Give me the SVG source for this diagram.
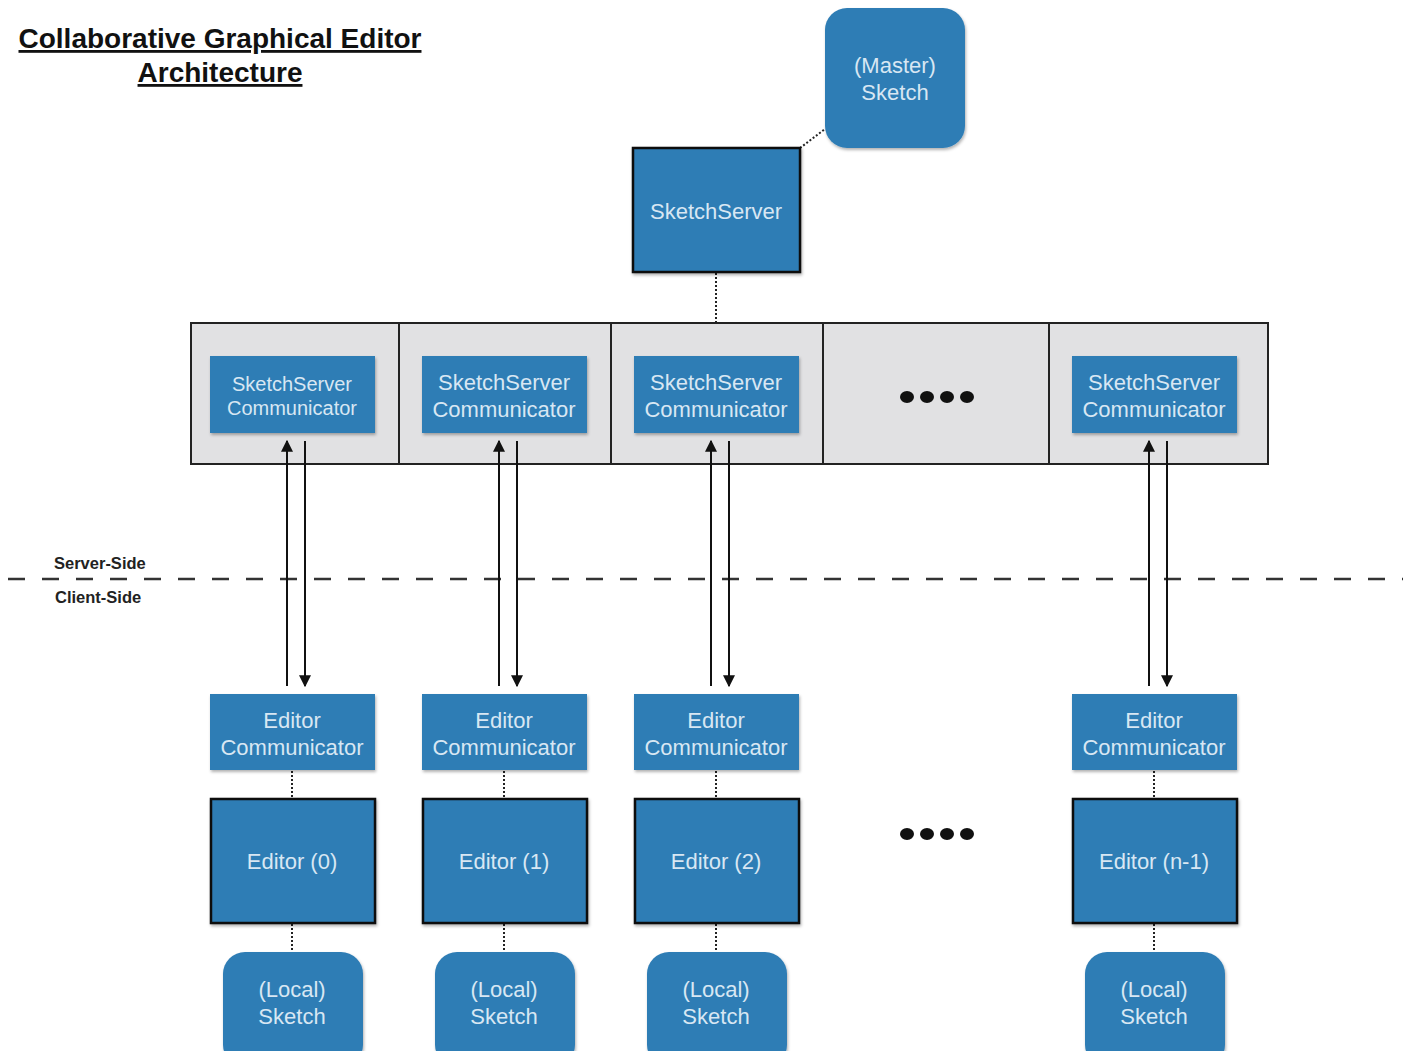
<svg xmlns="http://www.w3.org/2000/svg" width="1403" height="1051" viewBox="0 0 1403 1051">
  <style>
    .blue { fill: #2f7db5; }
    .frame { stroke: #111; stroke-width: 2.5; }
    .lbl { font-family: "Liberation Sans", Arial, sans-serif; font-size: 22px; fill: #d8e7f3; text-anchor: middle; }
    .lbl-s { font-size: 20px; }
    .title { font-family: "Liberation Sans", Arial, sans-serif; font-weight: bold; font-size: 28px; fill: #111; text-anchor: middle; text-decoration: underline; }
    .side { font-family: "Liberation Sans", Arial, sans-serif; font-weight: bold; font-size: 16.5px; fill: #222; }
    .dot { stroke: #222; stroke-width: 2; stroke-dasharray: 2 2; fill: none; }
    .arrow { stroke: #111; stroke-width: 2; fill: none; }
    .cell { fill: #e1e1e3; stroke: #222; stroke-width: 2; }
  </style>
  <defs>
    <marker id="ah" viewBox="0 0 10 10" refX="9" refY="5" markerWidth="6" markerHeight="6" orient="auto" markerUnits="strokeWidth">
      <path d="M0,0 L10,5 L0,10 z" fill="#111"/>
    </marker>
    <filter id="sh" x="-10%" y="-10%" width="130%" height="130%">
      <feDropShadow dx="1" dy="2" stdDeviation="1.5" flood-color="#000" flood-opacity="0.3"/>
    </filter>
  </defs>

  <rect width="1403" height="1051" fill="#fff"/>

  <!-- Title -->
  <g id="title">
    <text class="title" x="220" y="48">Collaborative Graphical Editor</text>
    <text class="title" x="220" y="82">Architecture</text>
  </g>

  <!-- Server / client boundary -->
  <g id="boundary">
    <line x1="8" y1="579" x2="1420" y2="579" stroke="#333" stroke-width="2.5" stroke-dasharray="17 17"/>
    <text class="side" x="54" y="569">Server-Side</text>
    <text class="side" x="55" y="603">Client-Side</text>
  </g>

  <!-- Server pool of communicators -->
  <g id="pool">
    <rect class="cell" x="191" y="323" width="208" height="141"/>
    <rect class="cell" x="399" y="323" width="212" height="141"/>
    <rect class="cell" x="611" y="323" width="212" height="141"/>
    <rect class="cell" x="823" y="323" width="226" height="141"/>
    <rect class="cell" x="1049" y="323" width="219" height="141"/>
    <g fill="#111">
      <ellipse cx="907" cy="397" rx="7" ry="6"/>
      <ellipse cx="927" cy="397" rx="7" ry="6"/>
      <ellipse cx="947" cy="397" rx="7" ry="6"/>
      <ellipse cx="967" cy="397" rx="7" ry="6"/>
    </g>
  </g>

  <!-- Connectors -->
  <g id="connectors">
    <line class="dot" x1="800" y1="148" x2="825" y2="129"/>
    <line class="dot" x1="716" y1="273" x2="716" y2="322"/>

    <line class="arrow" x1="287" y1="686" x2="287" y2="441" marker-end="url(#ah)"/>
    <line class="arrow" x1="305" y1="441" x2="305" y2="686" marker-end="url(#ah)"/>
    <line class="arrow" x1="499" y1="686" x2="499" y2="441" marker-end="url(#ah)"/>
    <line class="arrow" x1="517" y1="441" x2="517" y2="686" marker-end="url(#ah)"/>
    <line class="arrow" x1="711" y1="686" x2="711" y2="441" marker-end="url(#ah)"/>
    <line class="arrow" x1="729" y1="441" x2="729" y2="686" marker-end="url(#ah)"/>
    <line class="arrow" x1="1149" y1="686" x2="1149" y2="441" marker-end="url(#ah)"/>
    <line class="arrow" x1="1167" y1="441" x2="1167" y2="686" marker-end="url(#ah)"/>

    <line class="dot" x1="292" y1="771" x2="292" y2="799"/>
    <line class="dot" x1="292" y1="924" x2="292" y2="952"/>
    <line class="dot" x1="504" y1="771" x2="504" y2="799"/>
    <line class="dot" x1="504" y1="924" x2="504" y2="952"/>
    <line class="dot" x1="716" y1="771" x2="716" y2="799"/>
    <line class="dot" x1="716" y1="924" x2="716" y2="952"/>
    <line class="dot" x1="1154" y1="771" x2="1154" y2="799"/>
    <line class="dot" x1="1154" y1="924" x2="1154" y2="952"/>
  </g>

  <!-- Server side nodes -->
  <g id="master-sketch">
    <rect class="blue" x="825" y="8" width="140" height="140" rx="22" filter="url(#sh)"/>
    <text class="lbl" x="895" y="73">(Master)</text>
    <text class="lbl" x="895" y="100">Sketch</text>
  </g>
  <g id="sketch-server">
    <rect class="blue frame" x="633" y="148" width="167" height="124" filter="url(#sh)"/>
    <text class="lbl" x="716" y="219">SketchServer</text>
  </g>
  <g id="ssc-0">
    <rect class="blue" x="210" y="356" width="165" height="77" filter="url(#sh)"/>
    <text class="lbl lbl-s" x="292" y="391">SketchServer</text>
    <text class="lbl lbl-s" x="292" y="415">Communicator</text>
  </g>
  <g id="ssc-1">
    <rect class="blue" x="422" y="356" width="165" height="77" filter="url(#sh)"/>
    <text class="lbl" x="504" y="390">SketchServer</text>
    <text class="lbl" x="504" y="417">Communicator</text>
  </g>
  <g id="ssc-2">
    <rect class="blue" x="634" y="356" width="165" height="77" filter="url(#sh)"/>
    <text class="lbl" x="716" y="390">SketchServer</text>
    <text class="lbl" x="716" y="417">Communicator</text>
  </g>
  <g id="ssc-n">
    <rect class="blue" x="1072" y="356" width="165" height="77" filter="url(#sh)"/>
    <text class="lbl" x="1154" y="390">SketchServer</text>
    <text class="lbl" x="1154" y="417">Communicator</text>
  </g>

  <!-- Client side: column 0 -->
  <g id="ec-0">
    <rect class="blue" x="210" y="694" width="165" height="76" filter="url(#sh)"/>
    <text class="lbl" x="292" y="728">Editor</text>
    <text class="lbl" x="292" y="755">Communicator</text>
  </g>
  <g id="editor-0">
    <rect class="blue frame" x="211" y="799" width="164" height="124" filter="url(#sh)"/>
    <text class="lbl" x="292" y="869">Editor (0)</text>
  </g>
  <g id="local-0">
    <rect class="blue" x="223" y="952" width="140" height="115" rx="22" filter="url(#sh)"/>
    <text class="lbl" x="292" y="997">(Local)</text>
    <text class="lbl" x="292" y="1024">Sketch</text>
  </g>

  <!-- Client side: column 1 -->
  <g id="ec-1">
    <rect class="blue" x="422" y="694" width="165" height="76" filter="url(#sh)"/>
    <text class="lbl" x="504" y="728">Editor</text>
    <text class="lbl" x="504" y="755">Communicator</text>
  </g>
  <g id="editor-1">
    <rect class="blue frame" x="423" y="799" width="164" height="124" filter="url(#sh)"/>
    <text class="lbl" x="504" y="869">Editor (1)</text>
  </g>
  <g id="local-1">
    <rect class="blue" x="435" y="952" width="140" height="115" rx="22" filter="url(#sh)"/>
    <text class="lbl" x="504" y="997">(Local)</text>
    <text class="lbl" x="504" y="1024">Sketch</text>
  </g>

  <!-- Client side: column 2 -->
  <g id="ec-2">
    <rect class="blue" x="634" y="694" width="165" height="76" filter="url(#sh)"/>
    <text class="lbl" x="716" y="728">Editor</text>
    <text class="lbl" x="716" y="755">Communicator</text>
  </g>
  <g id="editor-2">
    <rect class="blue frame" x="635" y="799" width="164" height="124" filter="url(#sh)"/>
    <text class="lbl" x="716" y="869">Editor (2)</text>
  </g>
  <g id="local-2">
    <rect class="blue" x="647" y="952" width="140" height="115" rx="22" filter="url(#sh)"/>
    <text class="lbl" x="716" y="997">(Local)</text>
    <text class="lbl" x="716" y="1024">Sketch</text>
  </g>

  <!-- Client side: ellipsis -->
  <g id="client-ellipsis" fill="#111">
    <ellipse cx="907" cy="834" rx="7" ry="6"/>
    <ellipse cx="927" cy="834" rx="7" ry="6"/>
    <ellipse cx="947" cy="834" rx="7" ry="6"/>
    <ellipse cx="967" cy="834" rx="7" ry="6"/>
  </g>

  <!-- Client side: column n-1 -->
  <g id="ec-n">
    <rect class="blue" x="1072" y="694" width="165" height="76" filter="url(#sh)"/>
    <text class="lbl" x="1154" y="728">Editor</text>
    <text class="lbl" x="1154" y="755">Communicator</text>
  </g>
  <g id="editor-n">
    <rect class="blue frame" x="1073" y="799" width="164" height="124" filter="url(#sh)"/>
    <text class="lbl" x="1154" y="869">Editor (n-1)</text>
  </g>
  <g id="local-n">
    <rect class="blue" x="1085" y="952" width="140" height="115" rx="22" filter="url(#sh)"/>
    <text class="lbl" x="1154" y="997">(Local)</text>
    <text class="lbl" x="1154" y="1024">Sketch</text>
  </g>
</svg>
